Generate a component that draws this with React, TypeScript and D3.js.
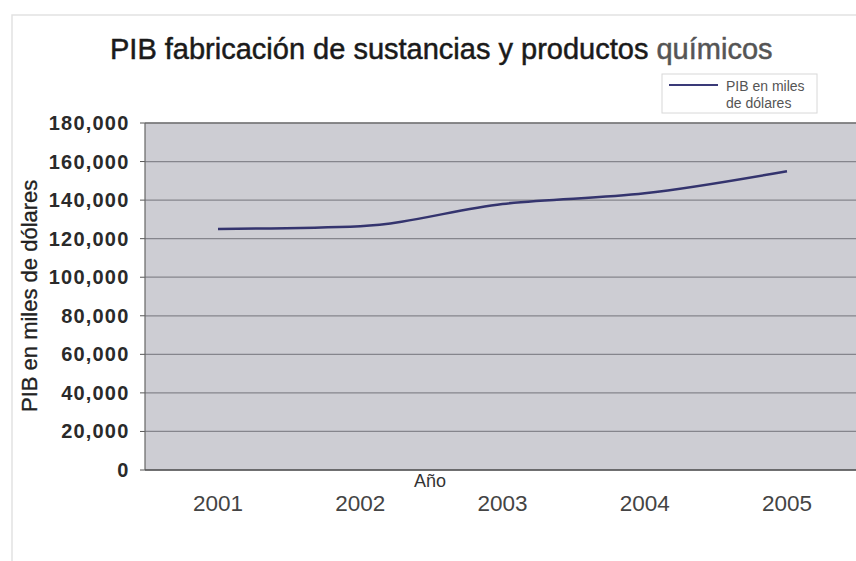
import React from "react";
import * as d3 from "d3";

const years = ["2001", "2002", "2003", "2004", "2005"];
const pib = [125000, 126500, 138000, 143500, 155000];
const yTicks = [0, 20000, 40000, 60000, 80000, 100000, 120000, 140000, 160000, 180000];
const seriesName = ["PIB en miles", "de dólares"];

export default function App() {
  const W = 856, H = 561;
  const left = 145, right = 860, top = 123, bottom = 470;
  const x = d3.scalePoint<string>().domain(years).range([218, 787]);
  const y = d3.scaleLinear().domain([0, 180000]).range([bottom, top]);
  const fmt = d3.format(",");
  const line = d3.line<number>().x((_, i) => x(years[i])!).y((d) => y(d)).curve(d3.curveMonotoneX);
  const font = "Liberation Sans, Arial, sans-serif";
  return (
    <svg width={W} height={H} style={{ position: "absolute", left: 0, top: 0, background: "#fff" }} fontFamily={font}>
      <rect x={12} y={15} width={W} height={H} fill="#fff" stroke="#e2e2e2" strokeWidth={1.5} />
      <text x={110} y={59} fontSize={29} fill="#1a1a1a" stroke="#1a1a1a" strokeWidth={0.5}>
        PIB fabricación de sustancias y productos <tspan fill="#555" stroke="#555">químicos</tspan>
      </text>
      <rect x={662} y={74} width={155} height={39} fill="#fff" stroke="#d8d8d8" />
      <line x1={669} x2={718} y1={85} y2={85} stroke="#3a3a78" strokeWidth={2} />
      <text x={726} y={91} fontSize={14} fill="#555">{seriesName[0]}</text>
      <text x={726} y={108} fontSize={14} fill="#555">{seriesName[1]}</text>
      <rect x={left} y={top} width={right - left} height={bottom - top} fill="#cdcdd3" />
      {yTicks.map((t) => (
        <g key={t}>
          <line x1={left} x2={right} y1={y(t)} y2={y(t)} stroke="#85858c" strokeWidth={1.2} />
          <line x1={140} x2={left} y1={y(t)} y2={y(t)} stroke="#555" strokeWidth={1} />
          <text x={129.5} y={y(t) + 7} textAnchor="end" fontSize={20} fontWeight="bold" letterSpacing={1.2} fill="#2a2a2a">{fmt(t)}</text>
        </g>
      ))}
      <line x1={left} x2={right} y1={top} y2={top} stroke="#777" strokeWidth={1.5} />
      <line x1={left} x2={left} y1={top} y2={bottom} stroke="#666" strokeWidth={1.2} />
      <line x1={left} x2={right} y1={bottom} y2={bottom} stroke="#555" strokeWidth={1.5} />
      {years.map((yr) => (
        <text key={yr} x={x(yr)!} y={511} textAnchor="middle" fontSize={22.5} fill="#444">{yr}</text>
      ))}
      <text x={430} y={487} textAnchor="middle" fontSize={18} fill="#333">Año</text>
      <text transform="translate(37,412) rotate(-90)" textAnchor="start" fontSize={22} fill="#222" stroke="#222" strokeWidth={0.3}>PIB en miles de dólares</text>
      <path d={line(pib) ?? ""} fill="none" stroke="#34346e" strokeWidth={2.5} />
    </svg>
  );
}
